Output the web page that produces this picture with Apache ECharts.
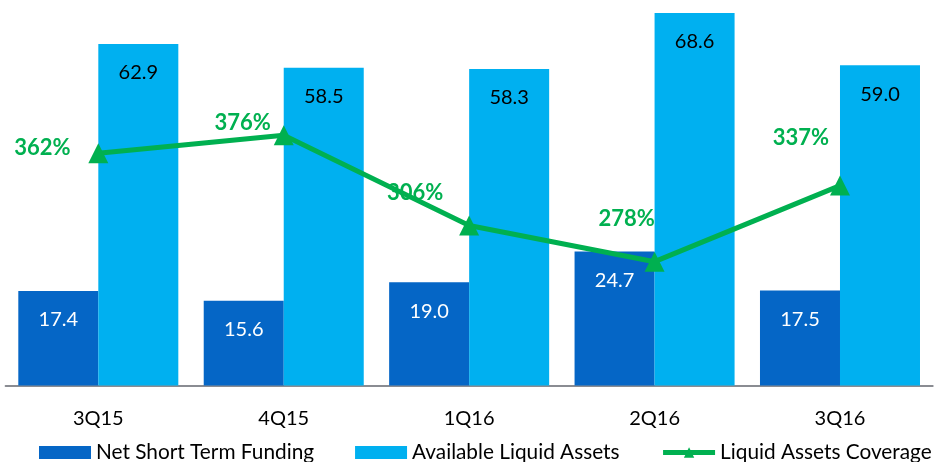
<!DOCTYPE html>
<html>
<head>
<meta charset="utf-8">
<script src="https://cdn.jsdelivr.net/npm/echarts@6/dist/echarts.min.js"></script>
<style>
  html, body { margin: 0; padding: 0; background: #ffffff; }
  #chart { width: 934px; height: 462px; }
</style>
</head>
<body>
<div id="chart"></div>
<script>
// Quarterly liquidity figures
const quarters = ['3Q15', '4Q15', '1Q16', '2Q16', '3Q16'];
const netShortTermFunding = [17.4, 15.6, 19.0, 24.7, 17.5];
const availableLiquidAssets = [62.9, 58.5, 58.3, 68.6, 59.0];
const liquidAssetsCoverage = [362, 376, 306, 278, 337];

// Hand-placed offsets for the coverage labels, relative to each point
const coverageLabelOffsets = [[-56, -5], [-41, -12], [-54, -33], [-28, -43], [-39, -48]];

const FONT = 'Lato, "Open Sans", sans-serif';
const DARK_BLUE = '#0566C6';
const LIGHT_BLUE = '#00B0F0';
const GREEN = '#00B050';

const chart = echarts.init(document.getElementById('chart'), null, { renderer: 'canvas' });

const barLabel = (color) => ({
  show: true,
  position: 'insideTop',
  distance: 19,
  color: color,
  fontFamily: FONT,
  fontSize: 20,
  formatter: (p) => p.value.toFixed(1)
});

chart.setOption({
  animation: false,
  backgroundColor: '#ffffff',
  grid: { left: 5.6, right: 1.3, top: 13, bottom: 76.5, containLabel: false },
  legend: {
    left: 39,
    top: 442,
    width: 1100,
    padding: 0,
    itemWidth: 52,
    itemHeight: 13,
    itemGap: 41,
    textStyle: { fontFamily: FONT, fontSize: 20.8, color: '#000000', lineHeight: 20 },
    data: [
      { name: 'Net Short Term Funding', icon: 'rect' },
      { name: 'Available Liquid Assets', icon: 'rect' },
      { name: 'Liquid Assets Coverage', lineStyle: { width: 5 } }
    ]
  },
  xAxis: {
    type: 'category',
    data: quarters,
    axisLine: { show: true, lineStyle: { color: '#8A8C92', width: 2 } },
    axisTick: { show: false },
    axisLabel: { fontFamily: FONT, fontSize: 20, color: '#000000', margin: 23 }
  },
  yAxis: [
    { type: 'value', min: 0, max: 68.6, show: false, splitLine: { show: false } },
    { type: 'value', min: 182, max: 470.8, show: false, splitLine: { show: false } }
  ],
  series: [
    {
      name: 'Net Short Term Funding',
      type: 'bar',
      data: netShortTermFunding,
      itemStyle: { color: DARK_BLUE },
      barGap: '0%',
      barCategoryGap: '13.7%',
      label: barLabel('#ffffff')
    },
    {
      name: 'Available Liquid Assets',
      type: 'bar',
      data: availableLiquidAssets,
      itemStyle: { color: LIGHT_BLUE },
      barGap: '0%',
      barCategoryGap: '13.7%',
      label: barLabel('#000000')
    },
    {
      name: 'Liquid Assets Coverage',
      type: 'line',
      yAxisIndex: 1,
      z: 5,
      data: liquidAssetsCoverage.map((v, i) => ({
        value: v,
        label: { offset: coverageLabelOffsets[i] }
      })),
      symbol: 'triangle',
      symbolSize: 20,
      lineStyle: { color: GREEN, width: 5 },
      itemStyle: { color: GREEN },
      label: {
        show: true,
        position: 'inside',
        color: GREEN,
        fontFamily: FONT,
        fontWeight: 'bold',
        fontSize: 22,
        formatter: (p) => p.value + '%'
      }
    }
  ]
});
</script>
</body>
</html>
